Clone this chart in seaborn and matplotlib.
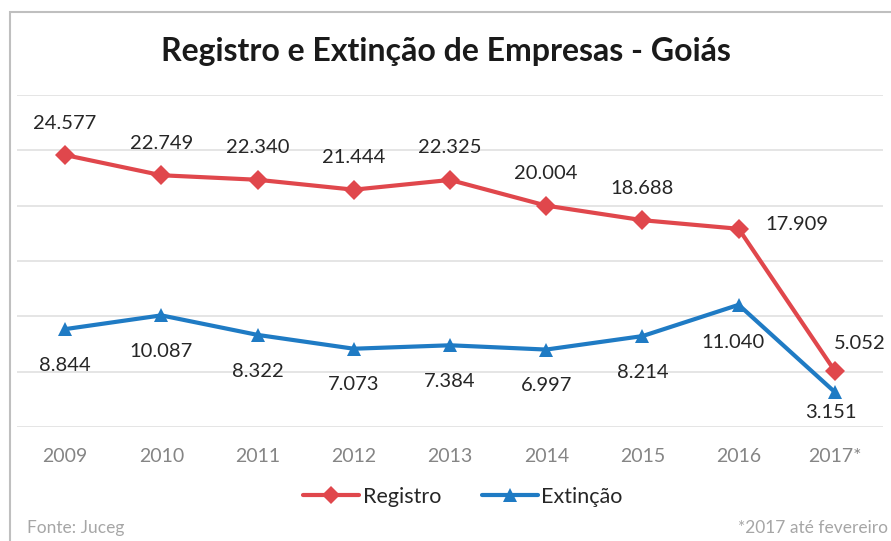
import matplotlib
matplotlib.use("Agg")
import matplotlib.pyplot as plt
import seaborn as sns
import pandas as pd
from matplotlib.patches import Rectangle
from matplotlib.lines import Line2D

# Data
anos = ["2009", "2010", "2011", "2012", "2013", "2014", "2015", "2016", "2017*"]
registro = [24577, 22749, 22340, 21444, 22325, 20004, 18688, 17909, 5052]
extincao = [8844, 10087, 8322, 7073, 7384, 6997, 8214, 11040, 3151]

cor_registro = "#e0474c"
cor_extincao = "#1f7bc4"

sns.set_style("white")
plt.rcParams["font.family"] = ["Lato", "DejaVu Sans"]

df = pd.DataFrame({
    "Ano": anos * 2,
    "Valor": registro + extincao,
    "Serie": ["Registro"] * len(anos) + ["Extinção"] * len(anos),
})
df["x"] = list(range(len(anos))) * 2

fig = plt.figure(figsize=(8.91, 5.41), dpi=100)
ax = fig.add_axes([17 / 891, 1 - 427 / 541, 866 / 891, 332 / 541])

sns.lineplot(
    data=df, x="x", y="Valor", hue="Serie", style="Serie",
    palette={"Registro": cor_registro, "Extinção": cor_extincao},
    markers={"Registro": "D", "Extinção": "^"}, dashes=False,
    linewidth=3, markersize=10, markeredgewidth=0, ax=ax, legend=False,
)

ax.set_xlim(-0.5, len(anos) - 0.5)
ax.set_ylim(0, 30000)
ax.set_yticks(range(0, 30001, 5000))
ax.set_yticklabels([])
ax.set_xticks(range(len(anos)))
ax.set_xticklabels(anos, color="#858585", fontsize=14)
ax.tick_params(axis="x", length=0, pad=15)
ax.tick_params(axis="y", length=0)
ax.grid(axis="y", color="#e0e0e0", linewidth=1.2)
ax.set_xlabel("")
ax.set_ylabel("")
for s in ax.spines.values():
    s.set_visible(False)

def fmt(v):
    return f"{v:,}".replace(",", ".")

# labels for Registro (mostly above)
off_reg = [(0, 23)] * 7 + [(42, 3), (18, 20)]
for i, v in enumerate(registro):
    dx, dy = off_reg[i]
    ax.annotate(fmt(v), (i, v), xytext=(dx, dy), textcoords="offset points",
                ha="center", va="center", fontsize=14.5, color="#262626")

# labels for Extinção (below)
off_ext = [(0, -26)] * 7 + [(-4, -27), (-3, -15)]
for i, v in enumerate(extincao):
    dx, dy = off_ext[i]
    ax.annotate(fmt(v), (i, v), xytext=(dx, dy), textcoords="offset points",
                ha="center", va="center", fontsize=14.5, color="#262626")

fig.text(0.5, 1 - 52 / 541, "Registro e Extinção de Empresas - Goiás",
         ha="center", va="center", fontsize=23, fontweight="bold", color="#1a1a1a")

# legend
handles = [
    Line2D([], [], color=cor_registro, marker="D", lw=3, markersize=9, markeredgewidth=0),
    Line2D([], [], color=cor_extincao, marker="^", lw=3, markersize=10, markeredgewidth=0),
]
fig.legend(handles, ["Registro", "Extinção"], loc="center",
           bbox_to_anchor=(463 / 891, 1 - 497 / 541), ncol=2, frameon=False,
           fontsize=15.5, handlelength=2.6, handletextpad=0.15, columnspacing=1.9)

fig.text(27 / 891, 1 - 528 / 541, "Fonte: Juceg", ha="left", va="center",
         fontsize=12.5, color="#a6a6a6")
fig.text(888 / 891, 1 - 528 / 541, "*2017 até fevereiro", ha="right", va="center",
         fontsize=12.5, color="#a6a6a6")

# outer border of the chart area
fig.patches.append(Rectangle((10 / 891, -0.05), 1.0, 1 - 12 / 541 + 0.05,
                             transform=fig.transFigure, fill=False,
                             edgecolor="#bfbfbf", linewidth=1.5))

fig.savefig("out.png", dpi=100, facecolor="white")
